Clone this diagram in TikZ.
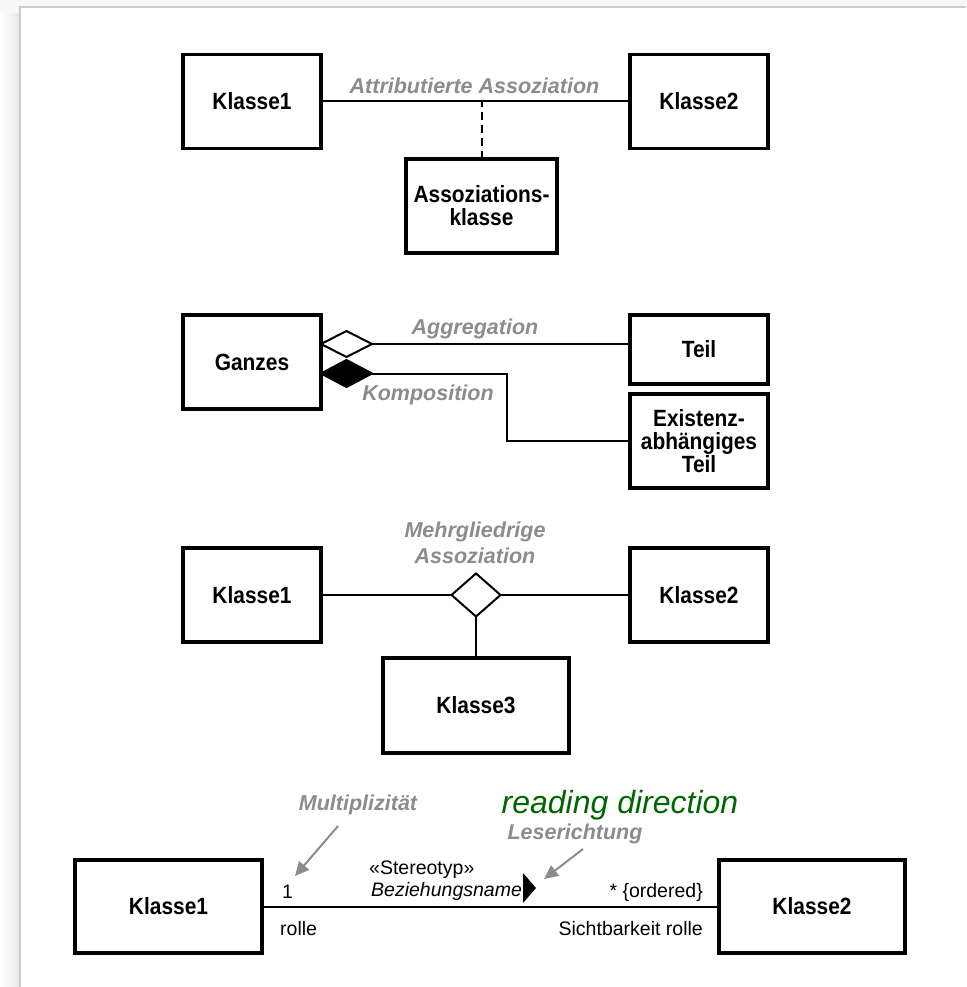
\documentclass[tikz,border=0pt]{standalone}
\usepackage{fontspec}
\setmainfont{Liberation Sans}
\newfontfamily\clsfont{Liberation Sans}[FakeStretch=0.89]
\usetikzlibrary{arrows.meta, positioning, shapes.geometric}

\tikzset{
  cls/.style={draw, line width=3.2pt, minimum width=138pt, minimum height=94pt,
    inner sep=0pt, outer sep=0pt, align=center,
    font=\clsfont\fontsize{23.5}{23}\selectfont\bfseries},
  conn/.style={line width=2pt},
  lbl/.style={text=black!45, inner sep=0pt, align=center,
    font=\fontsize{21.5}{26}\selectfont\bfseries\itshape},
  txt/.style={inner sep=0pt, font=\fontsize{19.5}{22}\selectfont},
  hint/.style={draw=black!45, line width=2pt, -{Triangle[length=14pt,width=13pt]}},
  rhomb/.style={diamond, draw, line width=2pt, inner sep=0pt, outer sep=0pt}
}

\begin{document}
\begin{tikzpicture}[x=1pt, y=-1pt]
\useasboundingbox (0,0) rectangle (966,987);
% page
\fill[gray!6] (0,0) rectangle (966,987);
\shade[left color=white, right color=gray!18] (0,14) rectangle (19,987);
\fill[white] (20,7) rectangle (966,987);
\draw[gray!40, line width=2pt] (20,987) -- (20,7) -- (966,7);

% attributierte Assoziation
\node[cls] (k1a) at (252,101.5) {Klasse1};
\node[cls] (k2a) at (699,101.5) {Klasse2};
\node[cls, minimum width=151pt] (assoc) at (481.5,206) {Assoziations-\\klasse};
\draw[conn] (k1a) -- (k2a);
\draw[conn, dash pattern=on 8pt off 5pt] (assoc.north) -- (assoc.north |- k1a);
\node[lbl] (attr) at (474.5,86) {Attributierte Assoziation};

% Aggregation / Komposition
\node[cls] (ganzes) at (252,362) {Ganzes};
\node[cls, minimum height=69pt] (teil) at (699,349.5) {Teil};
\node[cls] (exist) at (699,441) {Existenz-\\abhängiges\\Teil};
\node[rhomb, fill=white, minimum width=51pt, minimum height=26pt, anchor=west]
  (aggd) at ([yshift=18pt]ganzes.east) {};
\node[rhomb, fill=black, minimum width=51pt, minimum height=27pt, anchor=west]
  (kompd) at ([yshift=-11.5pt]ganzes.east) {};
\draw[conn] (aggd.east) -- (aggd.east -| teil.west);
\draw[conn] (kompd.east) -- ++(134.6,0) |- (exist.west);
\node[lbl] (aggr) at (475,329) {Aggregation};
\node[lbl] (komp) at (428,395) {Komposition};

% mehrgliedrige Assoziation
\node[cls] (k1b) at (252,595) {Klasse1};
\node[cls] (k2b) at (699,595) {Klasse2};
\node[cls, minimum width=186pt, minimum height=95pt] (k3) at (476,705.5) {Klasse3};
\node[rhomb, fill=white, minimum width=49pt, minimum height=43pt] (md) at (476,595) {};
\draw[conn] (k1b.east) -- (md.west);
\draw[conn] (md.east) -- (k2b.west);
\draw[conn] (md.south) -- (k3.north);
\node[lbl] (mehr) at (475,543) {Mehrgliedrige\\Assoziation};

% Beziehung mit Rollen
\node[cls, minimum width=187pt, minimum height=93pt] (k1c) at (168.5,906.5) {Klasse1};
\node[cls, minimum width=186pt, minimum height=93pt] (k2c) at (812,906.5) {Klasse2};
\draw[conn] (k1c.east) -- (k2c.west);
\node[txt, anchor=base west] (mult1) at (282,898) {1};
\node[txt, anchor=base west] (rolle1) at (280,935) {rolle};
\node[txt, anchor=base west] (stereo) at (369,874) {«Stereotyp»};
\node[txt, anchor=base west, font=\fontsize{19.5}{22}\selectfont\itshape] (bez) at (371,896) {Beziehungsname};
\fill (523,873) -- (523,903) -- (536,888) -- cycle;
\node[txt, anchor=base east] (ord) at (703,897) {* \{ordered\}};
\node[txt, anchor=base east] (rolle2) at (703,935) {Sichtbarkeit rolle};
\node[lbl] (mul) at (358,805) {Multiplizität};
\node[lbl] (lese) at (575,834) {Leserichtung};
\node[text=green!40!black, inner sep=0pt, font=\fontsize{32}{32}\selectfont\itshape\rmfamily]
  (read) at (620,805) {reading direction};
\coordinate (m0) at (338,826);
\coordinate (m1) at (295,876);
\coordinate (l0) at (583,849);
\coordinate (l1) at (544,879);
\draw[hint] (m0) -- (m1);
\draw[hint] (l0) -- (l1);
\end{tikzpicture}
\end{document}
